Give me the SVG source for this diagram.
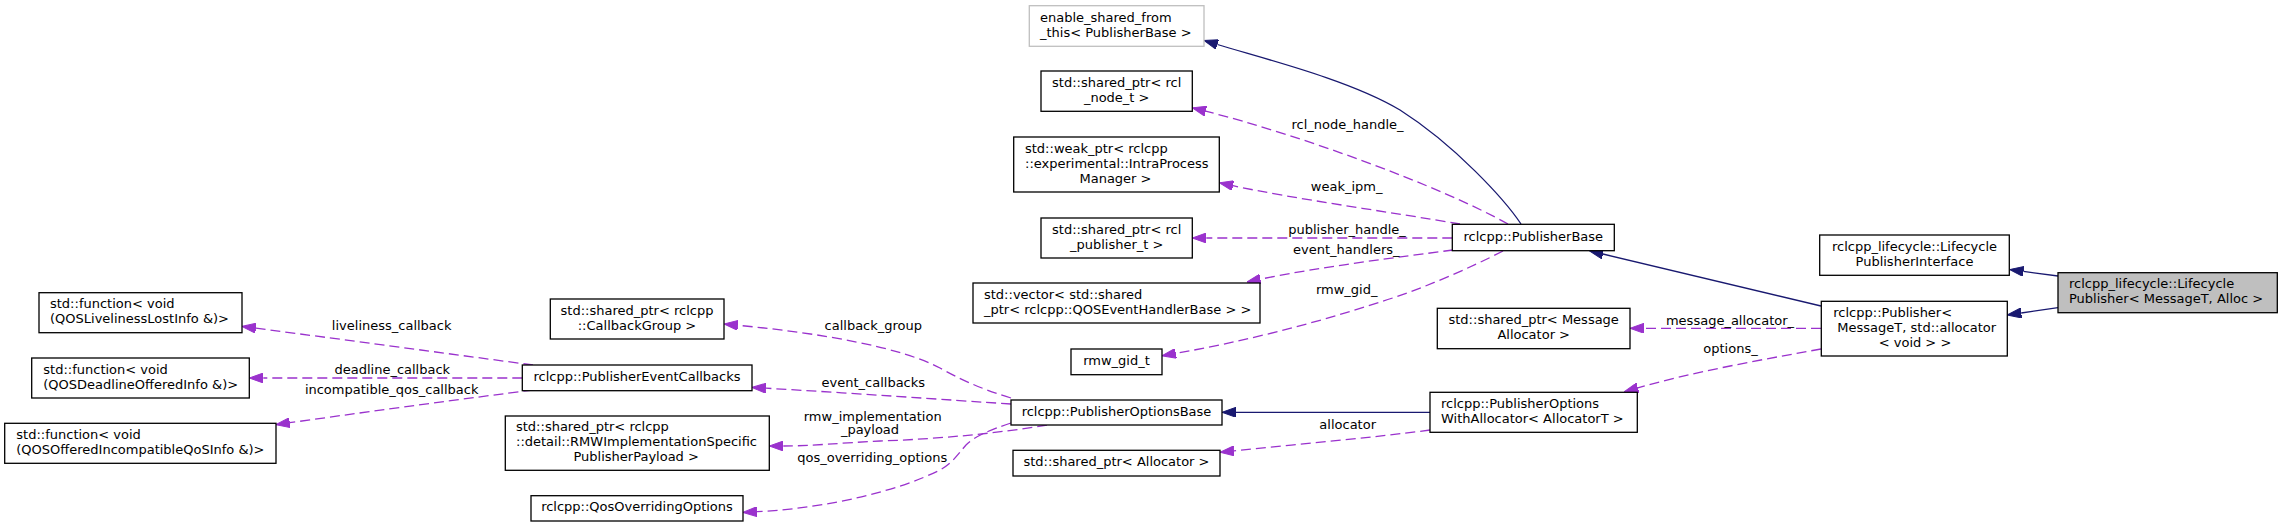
<svg xmlns="http://www.w3.org/2000/svg" width="2283" height="527" viewBox="0 0 2283 527">
<style>
text{font-family:"DejaVu Sans","Liberation Sans",sans-serif;font-size:13px;fill:#000}
.m{text-anchor:middle}
.n{fill:#fff;stroke:#000;stroke-width:1.3}
.g{fill:#fff;stroke:#bfbfbf;stroke-width:1.3}
.r{fill:#bfbfbf;stroke:#000;stroke-width:1.3}
.inh{fill:none;stroke:#191970;stroke-width:1.3;marker-end:url(#ai)}
.use{fill:none;stroke:#9a32cd;stroke-width:1.3;stroke-dasharray:10,5;marker-end:url(#au)}
</style>
<defs>
<marker id="ai" viewBox="0 0 14 10" refX="0" refY="5" markerWidth="14" markerHeight="10" markerUnits="userSpaceOnUse" orient="auto">
<path d="M0,0 L14,5 L0,10 z" fill="#191970" stroke="#191970" stroke-width="1"/>
</marker>
<marker id="au" viewBox="0 0 14 10" refX="0" refY="5" markerWidth="14" markerHeight="10" markerUnits="userSpaceOnUse" orient="auto">
<path d="M0,0 L14,5 L0,10 z" fill="#9a32cd" stroke="#9a32cd" stroke-width="1"/>
</marker>
</defs>
<rect width="2283" height="527" fill="#fff"/>
<g id="connectors">
<path class="inh" d="M2058,276 L2023.4,271.4"/>
<path class="inh" d="M2058,307.7 L2021.2,313"/>
<path class="inh" d="M1821,306 L1602.9,254"/>
<path class="inh" d="M1521,224 C1505,200 1455,145 1400,110 C1350,80 1265,59 1217.4,44.5"/>
<path class="inh" d="M1430,412.3 L1236,412.3"/>
<path class="use" d="M1508,224 C1440,186 1300,135 1205.7,111.2"/>
<text class="m" x="1347.5" y="129">rcl_node_handle_</text>
<path class="use" d="M1460,224 C1390,212 1292,198.5 1233,185.7"/>
<text class="m" x="1346.7" y="190.7">weak_ipm_</text>
<path class="use" d="M1452.3,238 L1206.3,238"/>
<text class="m" x="1347" y="234">publisher_handle_</text>
<path class="use" d="M1453,250 C1400,257 1319,267 1260.4,279.2"/>
<text class="m" x="1346.3" y="254">event_handlers_</text>
<path class="use" d="M1503,251 C1470,268 1420,290 1380,302 C1310,325 1240,342 1175.8,353.4"/>
<text class="m" x="1346.7" y="294">rmw_gid_</text>
<path class="use" d="M1821,328.3 L1644,328.3"/>
<text class="m" x="1730" y="324.7">message_allocator_</text>
<path class="use" d="M1821,349 C1760,360 1695.5,371.4 1637.8,387.85"/>
<text class="m" x="1730.5" y="352.7">options_</text>
<path class="use" d="M1430,430 C1370,438 1300,444 1234,450.9"/>
<text class="m" x="1347.7" y="428.7">allocator</text>
<path class="use" d="M1011,398 C985,390 965,382 940,368 C900,347 820,333 737.9,325.3"/>
<text class="m" x="873.3" y="330">callback_group</text>
<path class="use" d="M1011,404 C950,400 850,393 765.9,388.2"/>
<text class="m" x="873.3" y="386.7">event_callbacks</text>
<path class="use" d="M1047,425 C1000,433 940,439 880,441 C840,443 810,446 783.3,446"/>
<text class="m" x="872.7" y="421">rmw_implementation</text>
<text class="m" x="870" y="434.3">_payload</text>
<path class="use" d="M1011,423 C990,430 975,436 966,445 C955,458 952,463 940,470 C900,490 830,508 757,511.7"/>
<text class="m" x="872.2" y="461.7">qos_overriding_options</text>
<path class="use" d="M533,365 C480,358 400,347 255.9,328.2"/>
<text class="m" x="391.7" y="330">liveliness_callback</text>
<path class="use" d="M522.3,378 L263.3,378"/>
<text class="m" x="392.3" y="374">deadline_callback</text>
<path class="use" d="M533,390 C470,398 380,410 289.8,422.7"/>
<text class="m" x="391.7" y="394">incompatible_qos_callback</text>
</g>
<g id="node_lifecycle_publisher">
<rect class="r" x="2058" y="272.7" width="219.3" height="40"/>
<text x="2069" y="288.2">rclcpp_lifecycle::Lifecycle</text>
<text x="2069" y="303.2">Publisher&lt; MessageT, Alloc &gt;</text>
</g>
<g id="node_lifecycle_publisher_interface">
<rect class="n" x="1819.7" y="235" width="189.6" height="40.3"/>
<text class="m" x="1914.5" y="250.7">rclcpp_lifecycle::Lifecycle</text>
<text class="m" x="1914.5" y="265.7">PublisherInterface</text>
</g>
<g id="node_publisher">
<rect class="n" x="1821.3" y="301.3" width="186" height="54.7"/>
<text x="1833.3" y="316.7">rclcpp::Publisher&lt;</text>
<text class="m" x="1916.7" y="331.7">MessageT, std::allocator</text>
<text class="m" x="1915" y="346.7">&lt; void &gt; &gt;</text>
</g>
<g id="node_publisher_base">
<rect class="n" x="1452.3" y="224.3" width="162" height="26.4"/>
<text class="m" x="1533.3" y="240.5">rclcpp::PublisherBase</text>
</g>
<g id="node_message_allocator">
<rect class="n" x="1437.3" y="308.3" width="192.7" height="40.4"/>
<text class="m" x="1533.7" y="324">std::shared_ptr&lt; Message</text>
<text class="m" x="1533.7" y="339">Allocator &gt;</text>
</g>
<g id="node_publisher_options_with_allocator">
<rect class="n" x="1430" y="392.3" width="207.3" height="40"/>
<text x="1441" y="407.8">rclcpp::PublisherOptions</text>
<text x="1441" y="422.8">WithAllocator&lt; AllocatorT &gt;</text>
</g>
<g id="node_enable_shared_from_this">
<rect class="g" x="1029.3" y="5.7" width="174.7" height="40.6"/>
<text x="1040" y="21.5">enable_shared_from</text>
<text x="1040" y="36.5">_this&lt; PublisherBase &gt;</text>
</g>
<g id="node_rcl_node_t">
<rect class="n" x="1041" y="71" width="151.3" height="40.3"/>
<text class="m" x="1116.7" y="86.7">std::shared_ptr&lt; rcl</text>
<text class="m" x="1116.7" y="101.7">_node_t &gt;</text>
</g>
<g id="node_weak_ipm">
<rect class="n" x="1013.7" y="137" width="205.6" height="55"/>
<text x="1025" y="152.5">std::weak_ptr&lt; rclcpp</text>
<text x="1025" y="167.5">::experimental::IntraProcess</text>
<text class="m" x="1115.5" y="182.5">Manager &gt;</text>
</g>
<g id="node_rcl_publisher_t">
<rect class="n" x="1041" y="218" width="151.3" height="40"/>
<text class="m" x="1116.7" y="233.5">std::shared_ptr&lt; rcl</text>
<text class="m" x="1116.7" y="248.5">_publisher_t &gt;</text>
</g>
<g id="node_event_handlers">
<rect class="n" x="973" y="283" width="287" height="40"/>
<text x="984" y="298.5">std::vector&lt; std::shared</text>
<text x="984" y="313.5">_ptr&lt; rclcpp::QOSEventHandlerBase &gt; &gt;</text>
</g>
<g id="node_rmw_gid_t">
<rect class="n" x="1071" y="349" width="91" height="25.7"/>
<text class="m" x="1116.5" y="364.8">rmw_gid_t</text>
</g>
<g id="node_publisher_options_base">
<rect class="n" x="1011" y="400" width="211" height="25"/>
<text class="m" x="1116.5" y="415.5">rclcpp::PublisherOptionsBase</text>
</g>
<g id="node_allocator">
<rect class="n" x="1013" y="450.3" width="207" height="25.7"/>
<text class="m" x="1116.5" y="466.2">std::shared_ptr&lt; Allocator &gt;</text>
</g>
<g id="node_callback_group">
<rect class="n" x="550.3" y="299" width="173.7" height="40"/>
<text class="m" x="637" y="314.5">std::shared_ptr&lt; rclcpp</text>
<text class="m" x="637" y="329.5">::CallbackGroup &gt;</text>
</g>
<g id="node_publisher_event_callbacks">
<rect class="n" x="522.3" y="365" width="229.7" height="25.7"/>
<text class="m" x="637" y="380.9">rclcpp::PublisherEventCallbacks</text>
</g>
<g id="node_rmw_payload">
<rect class="n" x="505.3" y="416" width="264" height="54.3"/>
<text x="516" y="431.2">std::shared_ptr&lt; rclcpp</text>
<text x="516" y="446.2">::detail::RMWImplementationSpecific</text>
<text class="m" x="636.2" y="461.2">PublisherPayload &gt;</text>
</g>
<g id="node_qos_overriding_options">
<rect class="n" x="531" y="495.7" width="212" height="25.3"/>
<text class="m" x="637" y="511.4">rclcpp::QosOverridingOptions</text>
</g>
<g id="node_liveliness_lost">
<rect class="n" x="39" y="292.7" width="203" height="40"/>
<text x="50" y="308.2">std::function&lt; void</text>
<text x="50" y="323.2">(QOSLivelinessLostInfo &amp;)&gt;</text>
</g>
<g id="node_deadline_offered">
<rect class="n" x="31.7" y="358" width="217.6" height="40"/>
<text x="43.3" y="373.5">std::function&lt; void</text>
<text x="43.3" y="388.5">(QOSDeadlineOfferedInfo &amp;)&gt;</text>
</g>
<g id="node_offered_incompatible_qos">
<rect class="n" x="4.7" y="423.3" width="271.3" height="40"/>
<text x="16.3" y="438.8">std::function&lt; void</text>
<text x="16.3" y="453.8">(QOSOfferedIncompatibleQoSInfo &amp;)&gt;</text>
</g>
</svg>
